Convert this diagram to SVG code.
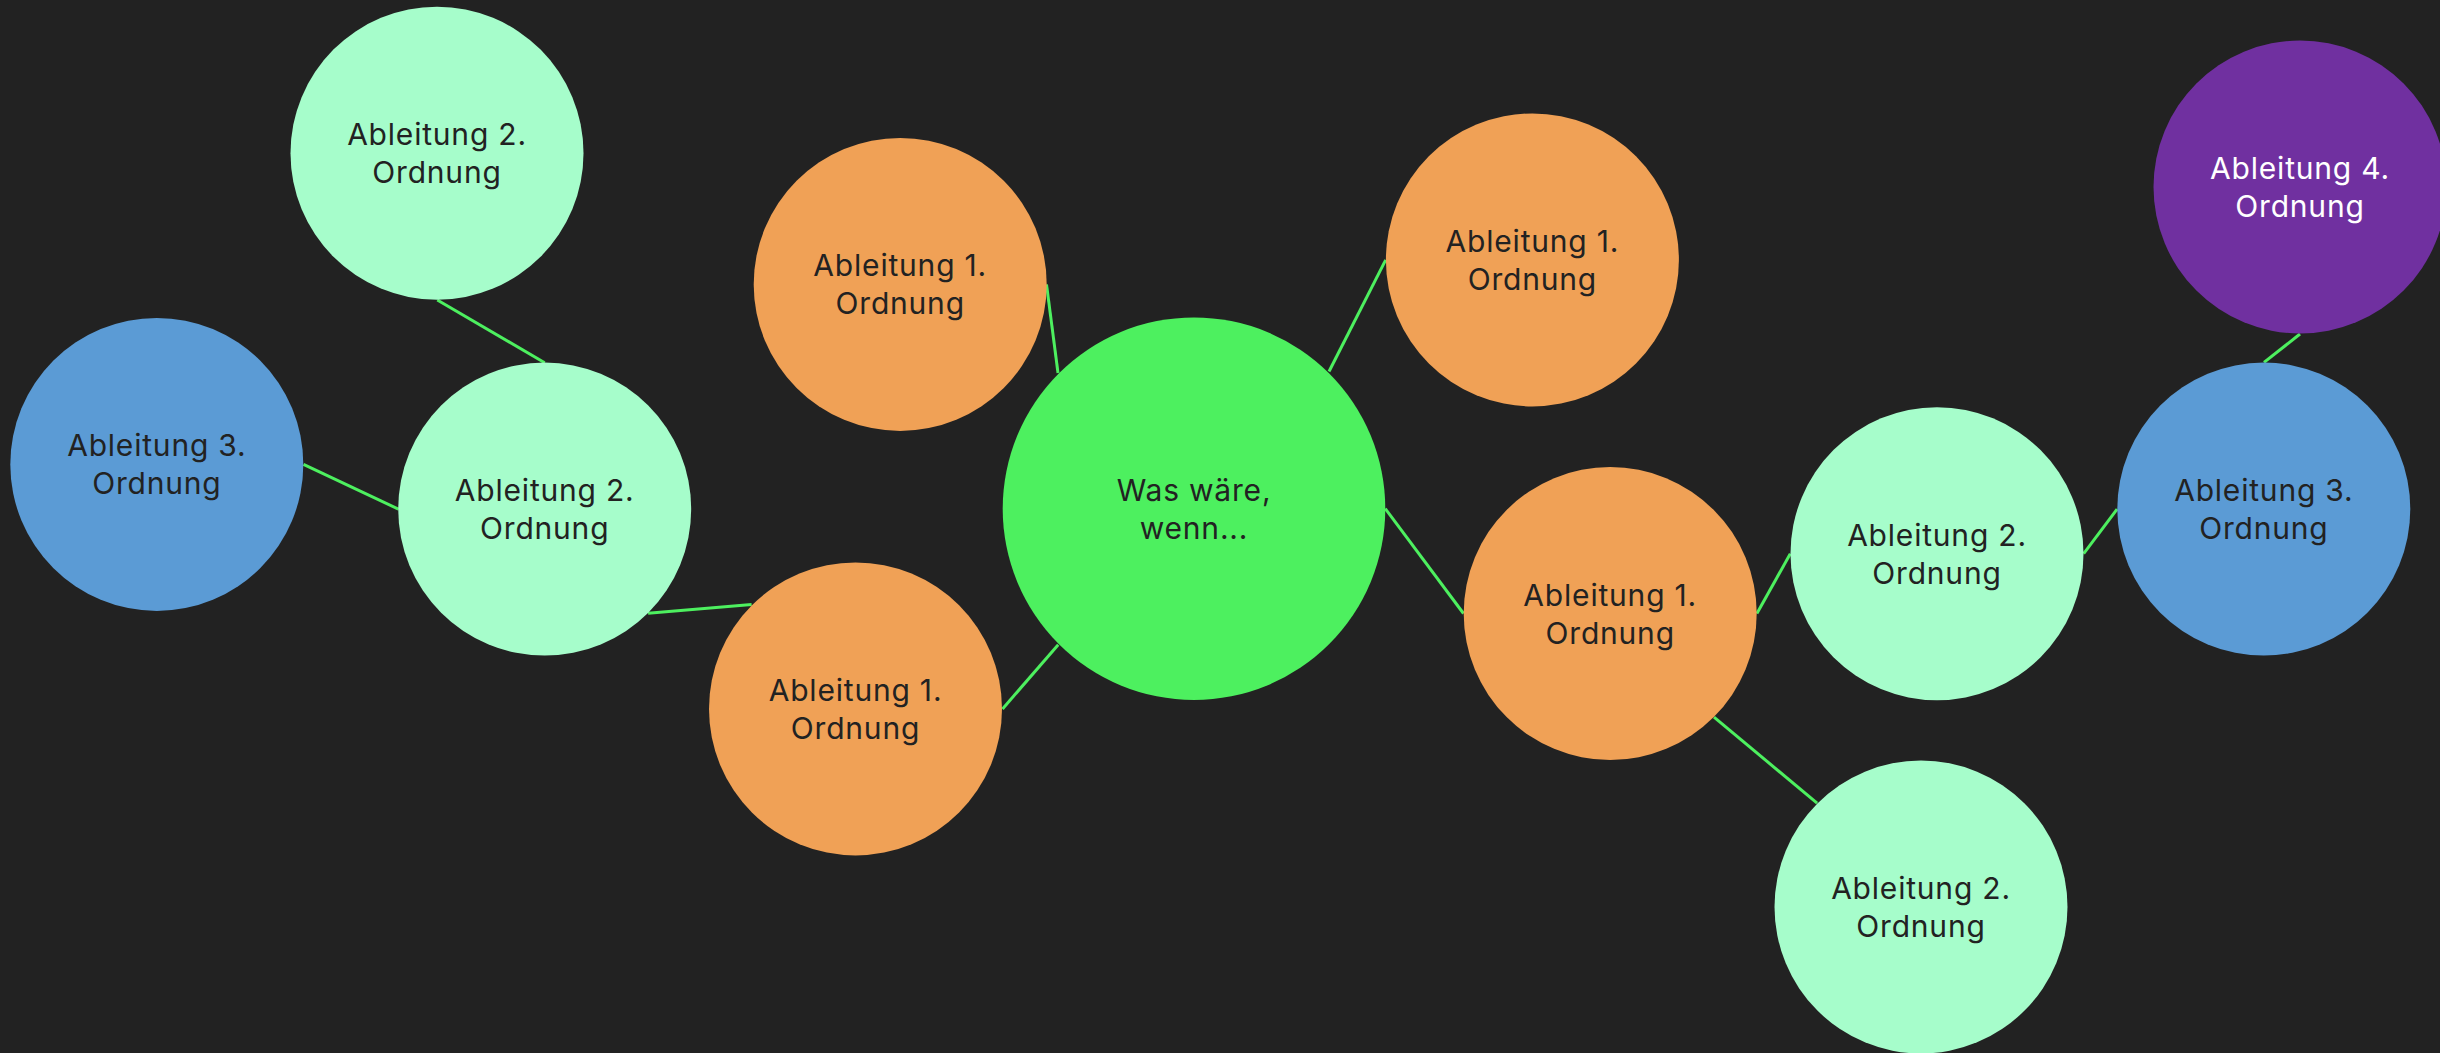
<svg xmlns="http://www.w3.org/2000/svg" width="2440" height="1053" viewBox="0 0 2440 1053">
<style>
.bg{fill:#222222}
.edge{stroke:#4df05f;stroke-width:3;fill:none}
.c0{fill:#4df05f}
.c1{fill:#f0a156}
.c2{fill:#a6fdcb}
.c3{fill:#5b9bd5}
.c4{fill:#7030a0}
text{font-family:Inter,"Noto Sans",sans-serif;font-size:30px;letter-spacing:0.8px;text-anchor:middle;fill:#222222}
.w{fill:#ffffff}
</style>
<rect class="bg" x="0" y="0" width="2440" height="1053"/>
<g id="connectors">
<line class="edge" x1="1058" y1="373" x2="1046.5" y2="284.4"/>
<line class="edge" x1="1329" y1="371.5" x2="1385.7" y2="259.9"/>
<line class="edge" x1="1385.3" y1="508.7" x2="1463.5" y2="613.5"/>
<line class="edge" x1="1058.2" y1="644.7" x2="1002.5" y2="708.9"/>
<line class="edge" x1="751.6" y1="604.4" x2="648.1" y2="613.2"/>
<line class="edge" x1="544.7" y1="362.7" x2="437.3" y2="300"/>
<line class="edge" x1="398.4" y1="509.1" x2="303.5" y2="464.4"/>
<line class="edge" x1="1756.9" y1="613.5" x2="1790.3" y2="553.7"/>
<line class="edge" x1="1714" y1="717.2" x2="1817.1" y2="803.1"/>
<line class="edge" x1="2083.7" y1="553.7" x2="2117.1" y2="509.1"/>
<line class="edge" x1="2264" y1="362.4" x2="2300" y2="334"/>
</g>
<g id="n0"><circle class="c0" cx="1194" cy="508.7" r="191.3"/><text x="1194" y="500.7">Was wäre,</text><text x="1194" y="538.7">wenn...</text></g>
<g id="n1"><circle class="c1" cx="900.2" cy="284.4" r="146.5"/><text x="900.2" y="276.4">Ableitung 1.</text><text x="900.2" y="314.4">Ordnung</text></g>
<g id="n2"><circle class="c1" cx="1532.4" cy="259.9" r="146.5"/><text x="1532.4" y="251.9">Ableitung 1.</text><text x="1532.4" y="289.9">Ordnung</text></g>
<g id="n3"><circle class="c1" cx="855.5" cy="708.9" r="146.5"/><text x="855.5" y="700.9">Ableitung 1.</text><text x="855.5" y="738.9">Ordnung</text></g>
<g id="n4"><circle class="c1" cx="1610.2" cy="613.5" r="146.5"/><text x="1610.2" y="605.5">Ableitung 1.</text><text x="1610.2" y="643.5">Ordnung</text></g>
<g id="n5"><circle class="c2" cx="544.7" cy="509.1" r="146.5"/><text x="544.7" y="501.1">Ableitung 2.</text><text x="544.7" y="539.1">Ordnung</text></g>
<g id="n6"><circle class="c2" cx="437" cy="153.2" r="146.5"/><text x="437" y="145.2">Ableitung 2.</text><text x="437" y="183.2">Ordnung</text></g>
<g id="n7"><circle class="c3" cx="156.8" cy="464.4" r="146.5"/><text x="156.8" y="456.4">Ableitung 3.</text><text x="156.8" y="494.4">Ordnung</text></g>
<g id="n8"><circle class="c2" cx="1937" cy="553.7" r="146.5"/><text x="1937" y="545.7">Ableitung 2.</text><text x="1937" y="583.7">Ordnung</text></g>
<g id="n9"><circle class="c2" cx="1921" cy="907" r="146.5"/><text x="1921" y="899">Ableitung 2.</text><text x="1921" y="937">Ordnung</text></g>
<g id="n10"><circle class="c3" cx="2263.8" cy="509.1" r="146.5"/><text x="2263.8" y="501.1">Ableitung 3.</text><text x="2263.8" y="539.1">Ordnung</text></g>
<g id="n11"><circle class="c4" cx="2300" cy="187" r="146.5"/><text class="w" x="2300" y="179">Ableitung 4.</text><text class="w" x="2300" y="217">Ordnung</text></g>
</svg>
